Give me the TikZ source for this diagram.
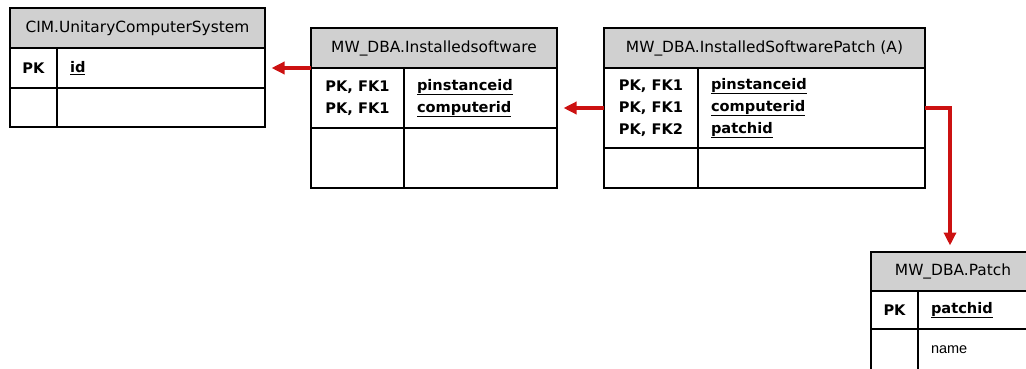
\documentclass[tikz,border=0pt]{standalone}
\usepackage{fontspec}
\setmainfont{DejaVu Sans}
\newfontfamily\plainfont{Liberation Sans}
\usetikzlibrary{arrows.meta,positioning}
\definecolor{headgray}{RGB}{208,208,208}
\definecolor{fkred}{RGB}{204,17,17}
\tikzset{
    tblhead/.style={draw, line width=1.6pt, fill=headgray, outer sep=0pt, inner sep=0pt, anchor=north west, font=\fontsize{15.4}{18}\selectfont},
    keycell/.style={draw, line width=1.6pt, outer sep=0pt, inner sep=0pt, align=center, font=\fontsize{14.6}{22}\selectfont\bfseries},
    fieldcell/.style={draw, line width=1.6pt, outer sep=0pt, inner xsep=13pt, inner ysep=0pt, align=left, font=\fontsize{14.6}{22}\selectfont\bfseries},
    fkarrow/.style={-{Triangle[length=13pt,width=12pt]}, line width=3.6pt, fkred, shorten >=6.5pt}
}

\begin{document}
\begin{tikzpicture}[x=1pt, y=-1pt, node distance=0pt]
    \useasboundingbox (0,0) rectangle (1026,369);
    % CIM.UnitaryComputerSystem
    \node[tblhead, minimum width=255pt, minimum height=40pt] (ucsHead) at (10,8) {CIM.UnitaryComputerSystem};
    \node[keycell, minimum width=47pt, minimum height=40pt, below right=of ucsHead.south west] (ucsKey1) {PK};
    \node[fieldcell, text width=182pt, minimum height=40pt, below right=of ucsKey1.north east] (ucsField1) {\underline{id}};
    \node[keycell, minimum width=47pt, minimum height=39pt, below right=of ucsKey1.south west] (ucsKey2) {};
    \node[fieldcell, text width=182pt, minimum height=39pt, below right=of ucsKey2.north east] (ucsField2) {};
    % MW_DBA.Installedsoftware
    \node[tblhead, minimum width=246pt, minimum height=40pt] (isHead) at (311,28) {MW\_DBA.Installedsoftware};
    \node[keycell, minimum width=93pt, minimum height=60pt, below right=of isHead.south west] (isKey1) {PK, FK1\\PK, FK1};
    \node[fieldcell, text width=127pt, minimum height=60pt, below right=of isKey1.north east] (isField1) {\underline{pinstanceid}\\\underline{computerid}};
    \node[keycell, minimum width=93pt, minimum height=60pt, below right=of isKey1.south west] (isKey2) {};
    \node[fieldcell, text width=127pt, minimum height=60pt, below right=of isKey2.north east] (isField2) {};
    % MW_DBA.InstalledSoftwarePatch (A)
    \node[tblhead, minimum width=321pt, minimum height=40pt] (ipsHead) at (604,28) {MW\_DBA.InstalledSoftwarePatch (A)};
    \node[keycell, minimum width=94pt, minimum height=80pt, below right=of ipsHead.south west] (ipsKey1) {PK, FK1\\PK, FK1\\PK, FK2};
    \node[fieldcell, text width=201pt, minimum height=80pt, below right=of ipsKey1.north east] (ipsField1) {\underline{pinstanceid}\\\underline{computerid}\\\underline{patchid}};
    \node[keycell, minimum width=94pt, minimum height=40pt, below right=of ipsKey1.south west] (ipsKey2) {};
    \node[fieldcell, text width=201pt, minimum height=40pt, below right=of ipsKey2.north east] (ipsField2) {};
    % MW_DBA.Patch
    \node[tblhead, minimum width=164pt, minimum height=39pt] (patchHead) at (871,252) {MW\_DBA.Patch};
    \node[keycell, minimum width=47pt, minimum height=38pt, below right=of patchHead.south west] (patchKey1) {PK};
    \node[fieldcell, text width=91pt, minimum height=38pt, below right=of patchKey1.north east] (patchField1) {\underline{patchid}};
    \node[keycell, minimum width=47pt, minimum height=44pt, below right=of patchKey1.south west] (patchKey2) {};
    \node[fieldcell, text width=91pt, minimum height=44pt, below right=of patchKey2.north east, font=\fontsize{14.5}{17}\plainfont] (patchField2) {\raisebox{2pt}{name}};
    % foreign keys
    \draw[fkarrow] (isHead.south west) -- (ucsField1.east);
    \draw[fkarrow] (ipsKey1.west) -- (ipsKey1.west -| isField1.east);
    \draw[fkarrow] (ipsField1.east) -| ([xshift=-3pt]patchHead.north);
\end{tikzpicture}
\end{document}
